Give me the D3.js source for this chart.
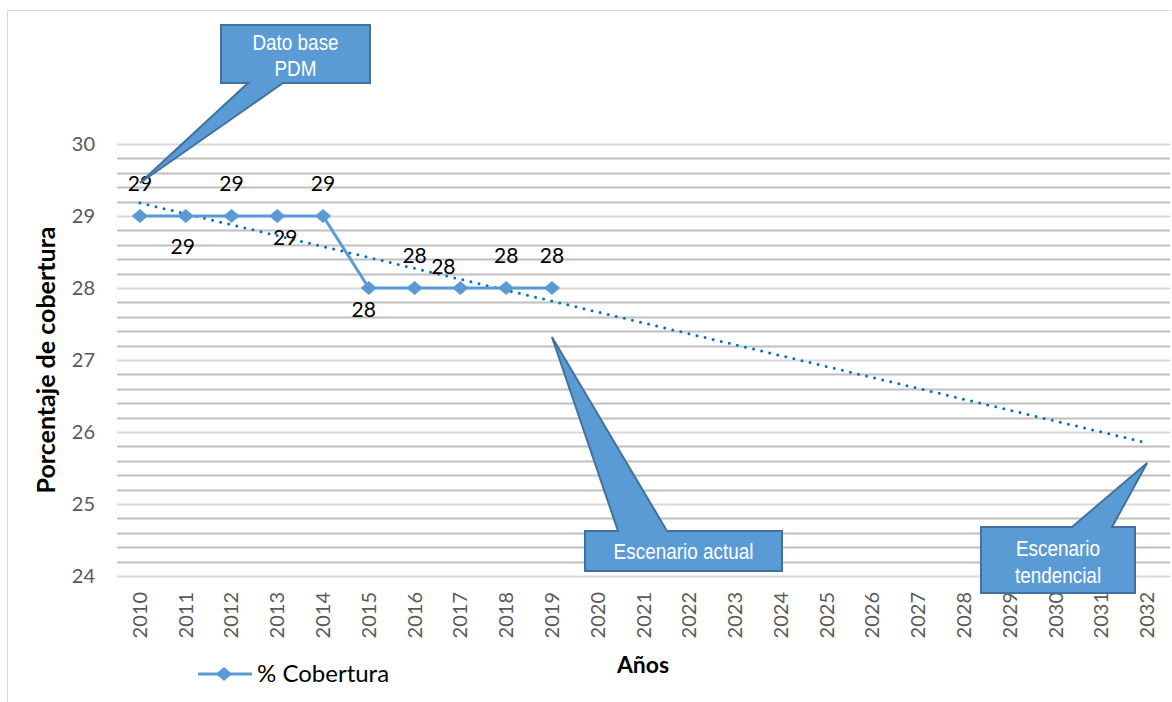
<!DOCTYPE html>
<html>
<head>
<meta charset="utf-8">
<script src="https://cdn.jsdelivr.net/npm/d3@7"></script>
<style>
  html, body { margin: 0; padding: 0; background: #fff; }
  svg { display: block; }
</style>
</head>
<body>
<svg id="chart" width="1172" height="702"></svg>
<script>
// Years on the category axis
const years = ["2010","2011","2012","2013","2014","2015","2016","2017","2018","2019","2020",
  "2021","2022","2023","2024","2025","2026","2027","2028","2029","2030","2031","2032"];
// Observed coverage (%) 2010-2019
const coverageYears = ["2010","2011","2012","2013","2014","2015","2016","2017","2018","2019"];
const coverage = [29, 29, 29, 29, 29, 28, 28, 28, 28, 28];
// Value-axis ticks
const yTicks = [24, 25, 26, 27, 28, 29, 30];
// Label placement for each data label (offset from the point, px)
const labelOffsets = [[0,-32],[-3,31],[0,-32],[8,22],[0,-32],[-5,22],[0,-32],[-17,-21],[0,-32],[0,-32]];

const svg = d3.select("#chart");
const W = 1172, H = 702;
const plot = { left: 117, right: 1170, top: 144, bottom: 576 };
const blue = "#5b9bd5", trendBlue = "#0070c0";
const font = "Lato, 'Open Sans', sans-serif";

// Chart frame
svg.append("path")
  .attr("d", `M7.5,${H} V10.5 H1171`)
  .attr("fill", "none").attr("stroke", "#d9d9d9").attr("stroke-width", 1);

const x = d3.scaleBand().domain(years).range([plot.left, plot.right]);
const y = d3.scaleLinear().domain([24, 30]).range([plot.bottom, plot.top]);
const cx = d => x(d) + x.bandwidth() / 2;

// Gridlines: major at integers, minor every 0.2
const minor = d3.range(24, 30.0001, 0.2).map(v => +v.toFixed(1));
svg.append("g").selectAll("line").data(minor).join("line")
  .attr("x1", plot.left).attr("x2", plot.right)
  .attr("y1", d => Math.round(y(d)) + 0.5).attr("y2", d => Math.round(y(d)) + 0.5)
  .attr("stroke", d => Number.isInteger(d) ? "#d9d9d9" : "#bfbfbf")
  .attr("stroke-width", 2);

// Y axis labels
const yAxis = svg.append("g").attr("transform", `translate(${plot.left},0)`)
  .call(d3.axisLeft(y).tickValues(yTicks).tickSize(0).tickPadding(22).tickFormat(d3.format("d")));
yAxis.select(".domain").remove();
yAxis.selectAll("text").attr("fill", "#595959").style("font-family", font).style("font-size", "20px");

// X axis labels, rotated
const xAxis = svg.append("g").attr("transform", `translate(0,${plot.bottom})`)
  .call(d3.axisBottom(x).tickSize(0).tickPadding(0));
xAxis.select(".domain").remove();
xAxis.selectAll("text")
  .attr("fill", "#595959").style("font-family", font).style("font-size", "20px")
  .attr("text-anchor", "end")
  .attr("transform", "translate(0,16) rotate(-90)")
  .attr("x", 0).attr("y", 0).attr("dy", "0.35em");

// Linear trendline fitted to the observed series, extended to the last year
const idx = coverageYears.map(d => years.indexOf(d));
const mx = d3.mean(idx), my = d3.mean(coverage);
const slope = d3.sum(idx, (xi, i) => (xi - mx) * (coverage[i] - my)) / d3.sum(idx, xi => (xi - mx) ** 2);
const intercept = my - slope * mx;
const trendPts = [0, years.length - 1].map(i => [cx(years[i]), y(intercept + slope * i)]);
svg.append("path")
  .attr("d", d3.line()(trendPts))
  .attr("fill", "none").attr("stroke", trendBlue).attr("stroke-width", 3)
  .attr("stroke-linecap", "round").attr("stroke-dasharray", "0 8.3");

// Observed series line
const pts = coverageYears.map((d, i) => [cx(d), y(coverage[i])]);
svg.append("path").attr("d", d3.line()(pts))
  .attr("fill", "none").attr("stroke", blue).attr("stroke-width", 3).attr("stroke-linejoin", "round");

const diamond = d3.symbol().type(d3.symbolDiamond2).size(170);
svg.append("g").selectAll("path").data(pts).join("path")
  .attr("transform", d => `translate(${d[0]},${d[1]}) scale(1,0.87)`)
  .attr("d", diamond).attr("fill", blue);

// Data labels
svg.append("g").selectAll("text").data(coverage).join("text")
  .attr("x", (d, i) => pts[i][0] + labelOffsets[i][0])
  .attr("y", (d, i) => pts[i][1] + labelOffsets[i][1])
  .attr("text-anchor", "middle").attr("dy", "0.35em")
  .style("font-family", font).style("font-size", "21px").attr("fill", "#000")
  .text(d => d3.format("d")(d));

// Callouts (narrow sans text)
const calloutFont = "'Liberation Sans', Arial, sans-serif";
function callout(rx, ry, rw, rh, b1, b2, tip, lines, lineYs) {
  const g = svg.append("g");
  const top = ry, bot = ry + rh;
  let d;
  if (tip[1] < ry) {
    d = `M${rx},${top} H${b1} L${tip[0]},${tip[1]} L${b2},${top} H${rx + rw} V${bot} H${rx} Z`;
  } else {
    d = `M${rx},${top} H${rx + rw} V${bot} H${b2} L${tip[0]},${tip[1]} L${b1},${bot} H${rx} Z`;
  }
  g.append("path").attr("d", d).attr("fill", blue).attr("stroke", "#41719c").attr("stroke-width", 2)
    .attr("stroke-linejoin", "miter");
  lines.forEach((t, i) => {
    g.append("text")
      .attr("transform", `translate(${rx + rw / 2},${lineYs[i]}) scale(0.86,1)`)
      .attr("text-anchor", "middle")
      .attr("dy", "0.35em").attr("fill", "#fff")
      .style("font-family", calloutFont).style("font-size", "22px").text(t);
  });
}
callout(221, 25, 149, 58, 248, 283, [cx("2010"), 183], ["Dato base", "PDM"], [42, 68]);
callout(585, 531, 197, 40, 618, 667, [cx("2019"), 337], ["Escenario actual"], [551]);
callout(981, 527, 154, 66, 1072, 1112, [cx("2032"), 463], ["Escenario", "tendencial"], [548, 575]);

// Axis titles
svg.append("text")
  .attr("transform", "translate(46,360) rotate(-90)")
  .attr("text-anchor", "middle").attr("dy", "0.35em")
  .style("font-family", font).style("font-size", "25px").style("font-weight", "bold")
  .text("Porcentaje de cobertura");
svg.append("text").attr("x", 643).attr("y", 665).attr("text-anchor", "middle").attr("dy", "0.35em")
  .style("font-family", font).style("font-size", "23px").style("font-weight", "bold")
  .text("Años");

// Legend
const lg = svg.append("g").attr("transform", "translate(198,674)");
lg.append("line").attr("x1", 0).attr("x2", 54).attr("stroke", blue).attr("stroke-width", 3);
lg.append("path").attr("transform", "translate(26,0) scale(1,0.87)").attr("d", diamond).attr("fill", blue);
lg.append("text").attr("x", 59).attr("dy", "0.35em")
  .style("font-family", font).style("font-size", "24px").text("% Cobertura");
</script>
</body>
</html>
